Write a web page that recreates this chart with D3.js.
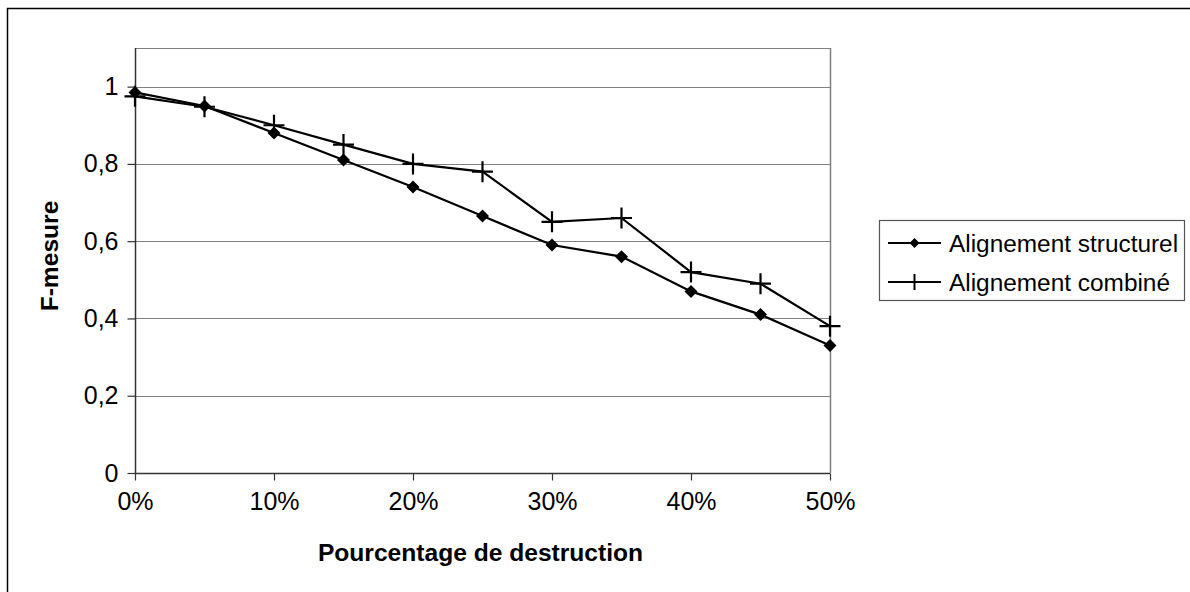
<!DOCTYPE html>
<html><head><meta charset="utf-8">
<script src="https://cdn.jsdelivr.net/npm/d3@7/dist/d3.min.js"></script>
<style>html,body{margin:0;padding:0;background:#fff;}svg{display:block;font-family:"Liberation Sans",Arial,sans-serif;}</style>
</head><body>
<script>
const categories = ["0%","5%","10%","15%","20%","25%","30%","35%","40%","45%","50%"];
const structurel = [0.985,0.95,0.88,0.81,0.74,0.665,0.59,0.56,0.47,0.41,0.33];
const combine = [0.975,0.948,0.90,0.85,0.80,0.78,0.65,0.66,0.52,0.49,0.38];
const xTickLabels = ["0%","10%","20%","30%","40%","50%"];
const yTicks = [0,0.2,0.4,0.6,0.8,1];
const seriesNames = ["Alignement structurel","Alignement combiné"];
const xTitle = "Pourcentage de destruction";
const yTitle = "F-mesure";

const W = 1190, H = 592;
const L = 135, R = 830, T = 48, B = 473;
const svg = d3.select("body").append("svg").attr("width",W).attr("height",H);

// outer frame
svg.append("rect").attr("x",7.5).attr("y",8.5).attr("width",1200).attr("height",600)
  .attr("fill","none").attr("stroke","#000").attr("stroke-width",1.5);

const x = d3.scalePoint().domain(categories).range([L,R]);
const y = d3.scaleLinear().domain([0,1.1]).range([B,T]);

// plot border (top/right)
svg.append("line").attr("x1",L).attr("x2",R).attr("y1",T+0.5).attr("y2",T+0.5).attr("stroke","#808080").attr("stroke-width",1.2);
svg.append("line").attr("x1",R+0.5).attr("x2",R+0.5).attr("y1",T).attr("y2",B).attr("stroke","#808080").attr("stroke-width",1.5);

// gridlines
svg.append("g").selectAll("line").data(yTicks.filter(d=>d>0)).join("line")
  .attr("x1",L).attr("x2",R).attr("y1",d=>Math.round(y(d))+0.5).attr("y2",d=>Math.round(y(d))+0.5)
  .attr("stroke","#808080").attr("stroke-width",1.2);

// y axis
const yAxis = d3.axisLeft(y).tickValues(yTicks).tickSize(8).tickPadding(9)
  .tickFormat(d=>String(+d.toFixed(1)).replace(".",","));
const gy = svg.append("g").attr("transform",`translate(${L+0.5},0)`).call(yAxis);
gy.select(".domain").attr("stroke","#333").attr("stroke-width",1.5).attr("d",`M0,${T}V${B}`);
gy.selectAll(".tick line").attr("stroke","#333").attr("stroke-width",1.2);
gy.selectAll(".tick text").attr("font-size",25).attr("fill","#000").attr("font-family","Liberation Sans, Arial");

// x axis
const xAxis = d3.axisBottom(x).tickValues(xTickLabels).tickSize(7).tickPadding(12);
const gx = svg.append("g").attr("transform",`translate(0,${B+0.5})`).call(xAxis);
gx.select(".domain").attr("stroke","#333").attr("stroke-width",1.5).attr("d",`M${L},0H${R}`);
gx.selectAll(".tick line").attr("stroke","#333").attr("stroke-width",1.2);
gx.selectAll(".tick text").attr("font-size",25).attr("fill","#000").attr("font-family","Liberation Sans, Arial");

// titles
svg.append("text").attr("x",(L+R)/2 - 2).attr("y",561).attr("text-anchor","middle")
  .attr("font-size",24.6).attr("font-weight","bold").text(xTitle);
svg.append("text").attr("transform",`translate(58,${256}) rotate(-90)`).attr("text-anchor","middle")
  .attr("font-size",24.6).attr("font-weight","bold").text(yTitle);

// lines
const line = d3.line().x((d,i)=>x(categories[i])).y(d=>y(d));
const plot = svg.append("g");
plot.append("path").datum(structurel).attr("d",line).attr("fill","none").attr("stroke","#000").attr("stroke-width",2.2);
plot.append("path").datum(combine).attr("d",line).attr("fill","none").attr("stroke","#000").attr("stroke-width",2.2);

const diamond = s => `M0,${-s}L${s},0L0,${s}L${-s},0Z`;
const plus = s => `M${-s},0H${s}M0,${-s}V${s}`;

plot.append("g").selectAll("path").data(structurel).join("path")
  .attr("transform",(d,i)=>`translate(${x(categories[i])},${y(d)})`)
  .attr("d",diamond(6.5)).attr("fill","#000");
plot.append("g").selectAll("path").data(combine).join("path")
  .attr("transform",(d,i)=>`translate(${x(categories[i])},${y(d)})`)
  .attr("d",plus(10.5)).attr("fill","none").attr("stroke","#000").attr("stroke-width",2.2);

// legend
const lg = svg.append("g");
lg.append("rect").attr("x",879.5).attr("y",220.5).attr("width",305).attr("height",80)
  .attr("fill","#fff").attr("stroke","#555").attr("stroke-width",1.2);
const rows = [243, 282];
seriesNames.forEach((name,i)=>{
  const yy = rows[i];
  lg.append("line").attr("x1",888).attr("x2",941).attr("y1",yy).attr("y2",yy).attr("stroke","#000").attr("stroke-width",2);
  if(i===0){
    lg.append("path").attr("transform",`translate(914.5,${yy})`).attr("d",diamond(5)).attr("fill","#000");
  } else {
    lg.append("path").attr("transform",`translate(914.5,${yy})`).attr("d",plus(8)).attr("fill","none").attr("stroke","#000").attr("stroke-width",2);
  }
  lg.append("text").attr("x",949).attr("y",yy+9).attr("font-size",24.4).attr("fill","#000").text(name);
});
</script>
</body></html>
